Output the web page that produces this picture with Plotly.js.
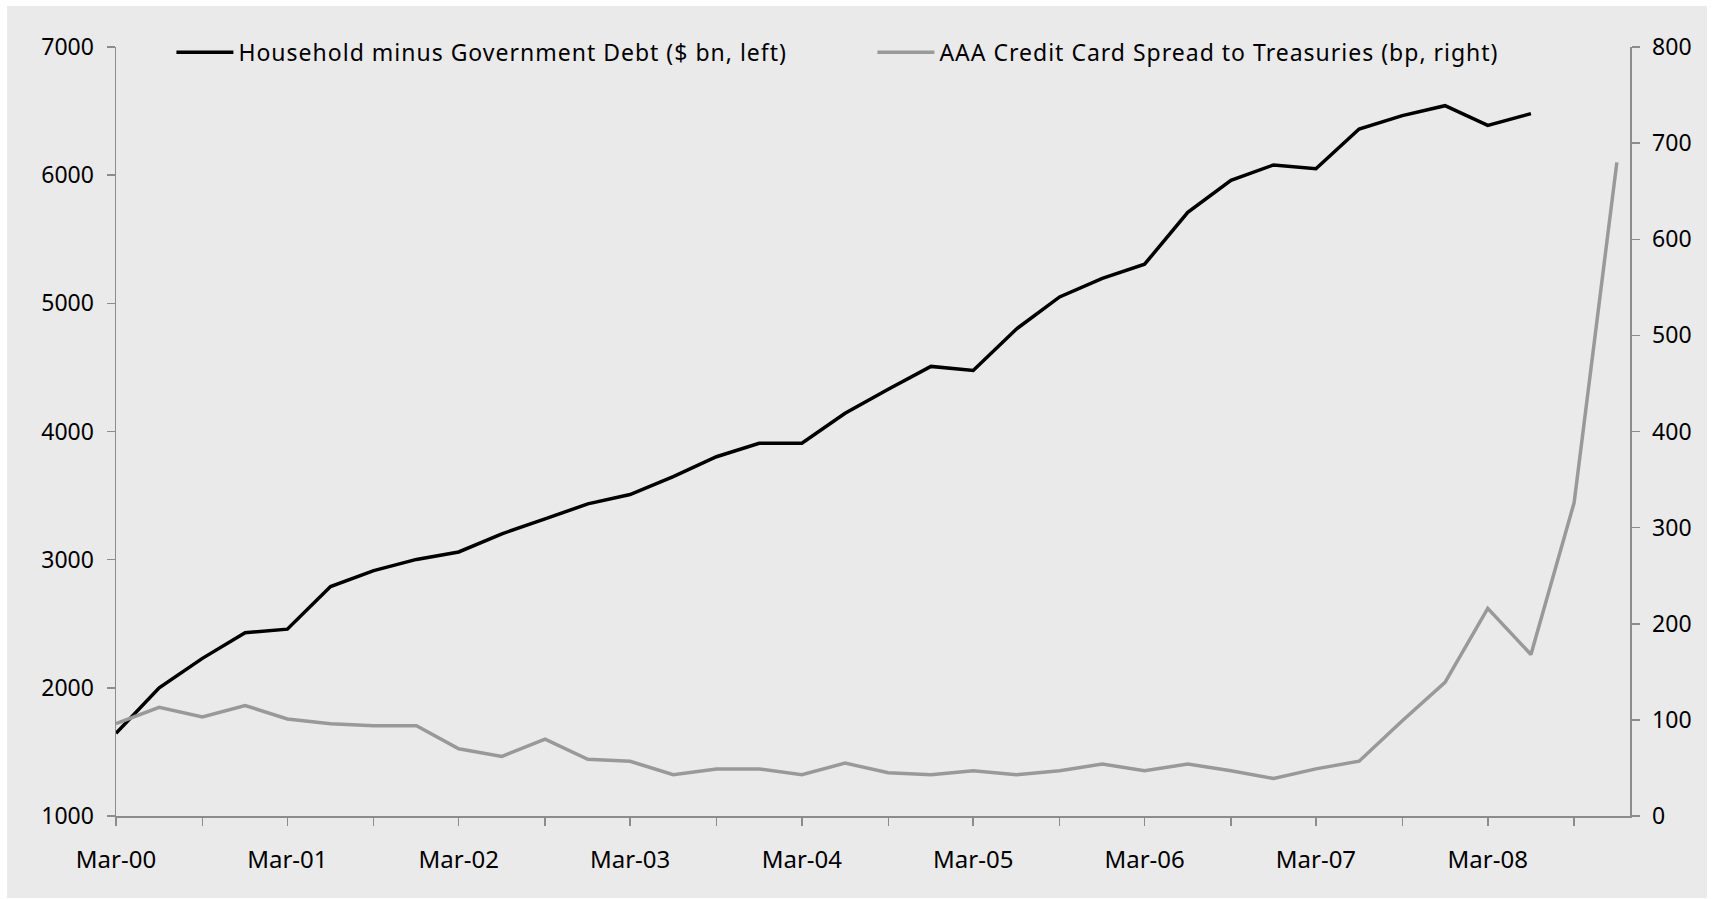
<!DOCTYPE html>
<html>
<head>
<meta charset="utf-8">
<script src="https://cdn.plot.ly/plotly-3.0.1.min.js"></script>
<style>
  html, body { margin: 0; padding: 0; background: #ffffff; }
  #chart { position: absolute; left: 7px; top: 6px; width: 1700px; height: 892px; }
  #chart .legendtext { letter-spacing: 1px; }
</style>
</head>
<body>
<div id="chart"></div>
<script>
// Quarter dates (Mar-00 .. Dec-08)
const quarters = [
  '2000-03-01','2000-06-01','2000-09-01','2000-12-01',
  '2001-03-01','2001-06-01','2001-09-01','2001-12-01',
  '2002-03-01','2002-06-01','2002-09-01','2002-12-01',
  '2003-03-01','2003-06-01','2003-09-01','2003-12-01',
  '2004-03-01','2004-06-01','2004-09-01','2004-12-01',
  '2005-03-01','2005-06-01','2005-09-01','2005-12-01',
  '2006-03-01','2006-06-01','2006-09-01','2006-12-01',
  '2007-03-01','2007-06-01','2007-09-01','2007-12-01',
  '2008-03-01','2008-06-01','2008-09-01','2008-12-01'
];

// Household minus Government Debt ($ bn, left) — Mar-00 .. Jun-08
const householdMinusGov = [
  1645, 2000, 2230, 2430,
  2458, 2790, 2915, 3002,
  3060, 3202, 3318, 3435,
  3508, 3648, 3803, 3908,
  3908, 4142, 4330, 4508,
  4476, 4800, 5050, 5195,
  5305, 5710, 5960, 6080,
  6050, 6360, 6465, 6542,
  6388, 6480
];

// AAA Credit Card Spread to Treasuries (bp, right) — Mar-00 .. Dec-08
const aaaSpread = [
  96, 113, 103, 115,
  101, 96, 94, 94,
  70, 62, 80, 59,
  57, 43, 49, 49,
  43, 55, 45, 43,
  47, 43, 47, 54,
  47, 54, 47, 39,
  49, 57, 99, 139,
  216, 168, 326, 680
];

// Axis ticks
const tickVals = [
  '2000-03-01','2000-09-01','2001-03-01','2001-09-01','2002-03-01','2002-09-01',
  '2003-03-01','2003-09-01','2004-03-01','2004-09-01','2005-03-01','2005-09-01',
  '2006-03-01','2006-09-01','2007-03-01','2007-09-01','2008-03-01','2008-09-01'
];
const tickText = [
  'Mar-00','','Mar-01','','Mar-02','','Mar-03','','Mar-04','',
  'Mar-05','','Mar-06','','Mar-07','','Mar-08',''
];
const leftTicks = [1000, 2000, 3000, 4000, 5000, 6000, 7000];
const rightTicks = [0, 100, 200, 300, 400, 500, 600, 700, 800];

const seriesNames = [
  'Household minus Government Debt ($ bn, left)',
  'AAA Credit Card Spread to Treasuries (bp, right)'
];

const FONT = '"Noto Sans", "Liberation Sans", Arial, sans-serif';
const AXIS_COLOR = '#8c8c8c';

const traces = [
  {
    x: quarters.slice(0, householdMinusGov.length),
    y: householdMinusGov,
    type: 'scatter', mode: 'lines',
    name: seriesNames[0],
    line: { color: '#000000', width: 3.5 },
    yaxis: 'y'
  },
  {
    x: quarters.slice(0, aaaSpread.length),
    y: aaaSpread,
    type: 'scatter', mode: 'lines',
    name: seriesNames[1],
    line: { color: '#999999', width: 3.5 },
    yaxis: 'y2'
  }
];

const layout = {
  width: 1700, height: 892,
  paper_bgcolor: '#eaeaea',
  plot_bgcolor: '#eaeaea',
  margin: { l: 108.6, r: 77, t: 40.7, b: 82, pad: 0 },
  font: { family: FONT, size: 23, color: '#000000' },
  showlegend: true,
  legend: {
    orientation: 'h',
    x: 0.0366, xanchor: 'left',
    y: 0.993, yanchor: 'middle',
    bgcolor: 'rgba(0,0,0,0)',
    font: { family: FONT, size: 23, color: '#000000' },
    itemwidth: 57,
    entrywidth: 629, entrywidthmode: 'pixels',
    traceorder: 'normal'
  },
  xaxis: {
    type: 'date',
    range: ['2000-03-01', '2008-12-29'],
    tickmode: 'array',
    tickvals: tickVals,
    ticktext: tickText,
    ticks: 'outside', ticklen: 8, tickwidth: 1.5, tickcolor: AXIS_COLOR,
    showline: true, linecolor: AXIS_COLOR, linewidth: 1.5,
    showgrid: false, zeroline: false,
    tickfont: { family: FONT, size: 24, color: '#000000' },
    ticklabelstandoff: 14
  },
  yaxis: {
    range: [1000, 7000],
    tickmode: 'array', tickvals: leftTicks,
    ticks: 'outside', ticklen: 8, tickwidth: 1.5, tickcolor: AXIS_COLOR,
    showline: true, linecolor: AXIS_COLOR, linewidth: 1.5,
    showgrid: false, zeroline: false,
    tickfont: { family: FONT, size: 23, color: '#000000' },
    ticklabelstandoff: 8
  },
  yaxis2: {
    range: [0, 800],
    overlaying: 'y', side: 'right',
    tickmode: 'array', tickvals: rightTicks,
    ticks: 'outside', ticklen: 8, tickwidth: 1.5, tickcolor: AXIS_COLOR,
    showline: true, linecolor: AXIS_COLOR, linewidth: 1.5,
    showgrid: false, zeroline: false,
    tickfont: { family: FONT, size: 23, color: '#000000' },
    ticklabelstandoff: 8
  }
};

Plotly.newPlot('chart', traces, layout, { displayModeBar: false, staticPlot: true });
</script>
</body>
</html>
